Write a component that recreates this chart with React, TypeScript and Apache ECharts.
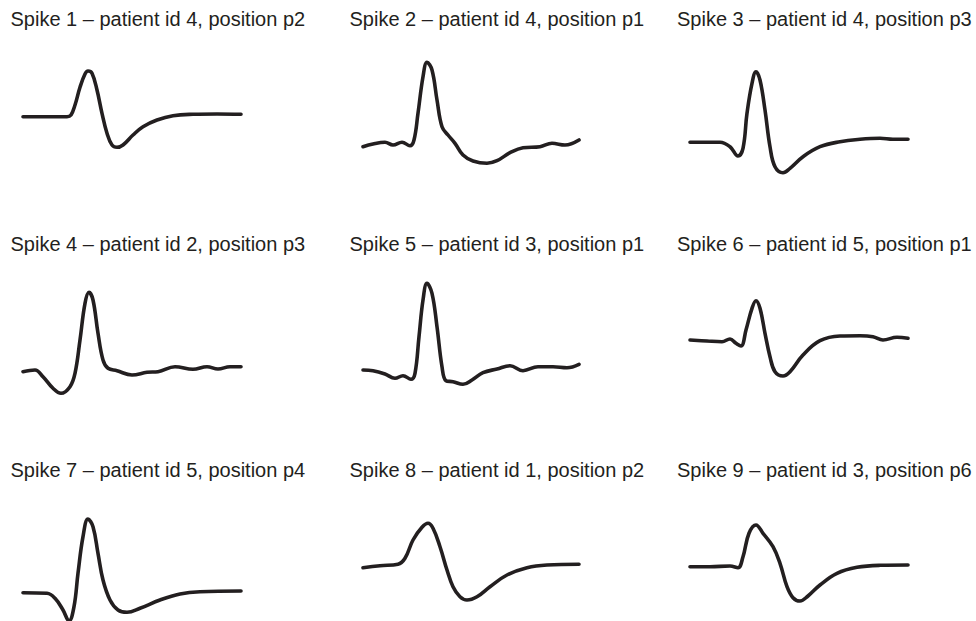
import React, { useEffect, useRef } from "react";
import * as echarts from "echarts";

// Titles of the nine spikes
const titles: string[] = [
  "Spike 1 – patient id 4, position p2",
  "Spike 2 – patient id 4, position p1",
  "Spike 3 – patient id 4, position p3",
  "Spike 4 – patient id 2, position p3",
  "Spike 5 – patient id 3, position p1",
  "Spike 6 – patient id 5, position p1",
  "Spike 7 – patient id 5, position p4",
  "Spike 8 – patient id 1, position p2",
  "Spike 9 – patient id 3, position p6",
];

// Waveforms: [time sample, amplitude]
const spike1: number[][] = [
  [0, 3.3], [20, 3.3], [44, 3.3], [48, 5], [52, 15], [57, 32.7], [62, 46], [65, 49], [69, 46.7],
  [74, 30], [79, 6.7], [84, -13.3], [89, -25], [94, -27.3], [100, -25], [110, -15], [120, -6.7],
  [134, 0], [150, 4.3], [170, 5.7], [194, 6], [218, 5.7],
];
const spike2: number[][] = [
  [0, -26.7], [10, -24], [22, -22.3], [30, -25], [39, -22.3], [47, -25.7], [51, -20], [55, 6.7],
  [60, 43.3], [64, 57.7], [69, 50], [74, 20], [79, -6.7], [85, -15], [92, -23.3], [100, -35],
  [110, -41], [124, -43.3], [134, -40.7], [147, -32.7], [160, -27.7], [177, -26.7], [189, -23.3],
  [202, -25], [216, -20],
];
const spike3: number[][] = [
  [0, -22.3], [30, -22.3], [40, -26.7], [48, -36], [53, -28.3], [57, 6.7], [62, 36.7], [66, 48.3],
  [70, 40], [75, 10], [80, -26.7], [85, -46.7], [93, -52.7], [100, -48.3], [113, -36.7],
  [130, -26.7], [150, -21.7], [170, -19.3], [190, -18.3], [203, -19.3], [218, -19.3],
];
const spike4: number[][] = [
  [0, -31.7], [12, -30], [20, -36.7], [30, -48.3], [38, -53.3], [47, -46.7], [52, -33.3], [57, 0],
  [62, 36.7], [66, 47.7], [70, 40], [75, 6.7], [80, -20], [85, -28.3], [94, -30.7], [109, -35],
  [124, -32.3], [135, -31.7], [152, -26.7], [170, -29.3], [184, -26.7], [195, -29], [207, -26.7],
  [218, -26.7],
];
const spike5: number[][] = [
  [0, -30], [10, -30.7], [22, -34], [32, -38.3], [40, -35.7], [48, -39.3], [52, -33.3], [56, 3.3],
  [60, 40], [64, 56.7], [69, 46.7], [74, 13.3], [79, -26.7], [83, -40.7], [90, -41.7], [100, -44.3],
  [109, -40], [120, -32.7], [134, -29], [147, -25.7], [160, -30.7], [175, -26.7], [190, -26.7],
  [204, -27.7], [216, -24.3],
];
const spike6: number[][] = [
  [0, 0], [17, -1], [32, -1.7], [40, 1], [46, -3.3], [51, -6], [56, 10], [62, 31.7], [66, 39.3],
  [70, 31.7], [75, 6.7], [80, -16.7], [85, -31.7], [93, -36], [100, -31.7], [113, -15], [130, -0.7],
  [150, 4], [170, 4.3], [183, 3.3], [193, 0], [207, 2.7], [218, 1.7],
];
const spike7: number[][] = [
  [0, -32.7], [24, -33.3], [32, -38.3], [40, -50], [46, -61], [51, -46.7], [55, -13.3], [60, 23.3],
  [65, 41], [70, 33.3], [75, 6.7], [80, -20], [87, -40], [95, -50], [104, -52.3], [117, -48.3],
  [137, -40], [157, -34], [177, -31.7], [218, -31],
];
const spike8: number[][] = [
  [0, -7.7], [17, -5.7], [35, -4.3], [42, 1.7], [50, 20], [59, 32.7], [65, 36.7], [70, 31.7],
  [77, 13.3], [84, -10], [90, -26.7], [97, -36.7], [104, -40], [114, -36.7], [127, -26.7],
  [144, -15], [164, -7.7], [184, -5], [216, -4.3],
];
const spike9: number[][] = [
  [0, -6.7], [20, -6.7], [40, -6], [48, -7.7], [53, 3.3], [59, 26.7], [66, 35], [73, 26.7],
  [83, 13.3], [90, -3.3], [97, -26.7], [103, -37.7], [110, -41], [118, -36], [130, -25],
  [147, -13.3], [167, -7.3], [190, -5.3], [218, -5],
];

const spikes = [spike1, spike2, spike3, spike4, spike5, spike6, spike7, spike8, spike9];

export default function App() {
  const ref = useRef<HTMLDivElement>(null);
  useEffect(() => {
    if (!ref.current) return;
    const chart = echarts.init(ref.current, null, { renderer: "svg" });
    const colLeft = [23, 363, 690];
    const rowRef = [120, 340, 560];
    const titleX = [10.5, 349.5, 677];
    const titleY = [19, 244, 470];
    const grids: any[] = [];
    const xAxes: any[] = [];
    const yAxes: any[] = [];
    const series: any[] = [];
    const graphics: any[] = [];
    spikes.forEach((d, i) => {
      const r = Math.floor(i / 3);
      const c = i % 3;
      grids.push({ left: colLeft[c], width: 218, top: rowRef[r] - 60, height: 120, containLabel: false });
      xAxes.push({ type: "value", gridIndex: i, min: 0, max: 218, show: false });
      yAxes.push({ type: "value", gridIndex: i, min: -60, max: 60, show: false });
      series.push({
        type: "line",
        xAxisIndex: i,
        yAxisIndex: i,
        data: d,
        smooth: 0.4,
        symbol: "none",
        clip: true,
        lineStyle: { color: "#231f20", width: 3.6, cap: "round", join: "round" },
      });
      graphics.push({
        type: "text",
        x: titleX[c],
        y: titleY[r],
        style: {
          text: titles[i],
          fill: "#231f20",
          font: '20px "Liberation Sans", Arial, Helvetica, sans-serif',
          textAlign: "left",
          textVerticalAlign: "middle",
        },
      });
    });
    chart.setOption({
      animation: false,
      backgroundColor: "#ffffff",
      grid: grids,
      xAxis: xAxes,
      yAxis: yAxes,
      series,
      graphic: graphics,
    });
    return () => chart.dispose();
  }, []);
  return (
    <div
      ref={ref}
      style={{ position: "absolute", left: 0, top: 0, width: 976, height: 621 }}
    />
  );
}
